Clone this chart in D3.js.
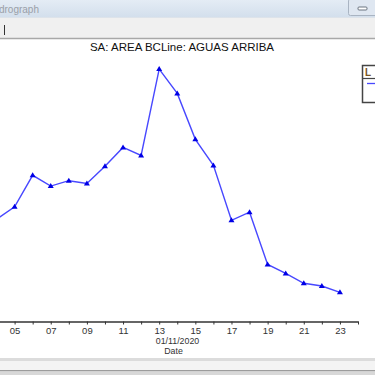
<!DOCTYPE html>
<html>
<head>
<meta charset="utf-8">
<script src="https://cdn.jsdelivr.net/npm/d3@7"></script>
<style>
  html, body { margin: 0; padding: 0; background: #fff; }
  svg { display: block; font-family: "Liberation Sans", Arial, sans-serif; }
</style>
</head>
<body>
<svg id="chart" width="375" height="375"></svg>
<script>
// Data: daily values, November 2020
const days = [4, 5, 6, 7, 8, 9, 10, 11, 12, 13, 14, 15, 16, 17, 18, 19, 20, 21, 22, 23];
const values = [114, 128, 163, 151, 157, 154, 173, 194, 185, 281, 254, 203, 174, 113, 122, 64, 54, 43, 40, 33];
const chartTitle = "SA: AREA BCLine: AGUAS ARRIBA";
const windowTitle = "Hydrograph";
const monthLabel = "01/11/2020";
const axisLabel = "Date";

const W = 375, H = 375;
const svg = d3.select("#chart");

// Window chrome
const grad = svg.append("defs").append("linearGradient")
    .attr("id", "tb").attr("x1", 0).attr("y1", 0).attr("x2", 0).attr("y2", 1);
grad.append("stop").attr("offset", "0%").attr("stop-color", "#e4ecf5");
grad.append("stop").attr("offset", "100%").attr("stop-color", "#d3dfec");

svg.append("rect").attr("x", 0).attr("y", 0).attr("width", W).attr("height", 17).attr("fill", "url(#tb)");
svg.append("text")
    .attr("x", 39).attr("y", 12.5)
    .attr("text-anchor", "end")
    .attr("font-family", "'Liberation Sans', Arial, sans-serif")
    .attr("font-size", 10).attr("fill", "#9aa0a8")
    .text(windowTitle);

// minimize button
svg.append("rect").attr("x", 348.5).attr("y", -1).attr("width", 30).attr("height", 16.5)
    .attr("rx", 2).attr("fill", "#dfe7f1").attr("stroke", "#a9b4c2");
svg.append("rect").attr("x", 358).attr("y", 7).attr("width", 9).attr("height", 3)
    .attr("rx", 1).attr("fill", "#fff").attr("stroke", "#6b7480");

// toolbar strip
svg.append("rect").attr("x", 0).attr("y", 17).attr("width", W).attr("height", 21).attr("fill", "#f0f0f0");
svg.append("line").attr("x1", 0).attr("x2", W).attr("y1", 17.5).attr("y2", 17.5).attr("stroke", "#dde3ea");
svg.append("line").attr("x1", 4.5).attr("x2", 4.5).attr("y1", 25).attr("y2", 35).attr("stroke", "#333");
svg.append("line").attr("x1", 0).attr("x2", W).attr("y1", 38.5).attr("y2", 38.5).attr("stroke", "#a8a8a8").attr("stroke-width", 1.5);

// Title
svg.append("text")
    .attr("x", 182).attr("y", 50.5)
    .attr("text-anchor", "middle")
    .attr("font-size", 11.5).attr("fill", "#111")
    .text(chartTitle);

// Scales
const x = d3.scaleTime()
    .domain([new Date(2020, 10, 1), new Date(2020, 10, 24)])
    .range([-57.7, 358]);
const y = d3.scaleLinear()
    .domain([0, 300])
    .range([322, 52]);

const axisY = 321.5;
const xAxis = d3.axisBottom(x)
    .ticks(d3.timeDay.every(1))
    .tickSize(3)
    .tickSizeOuter(0)
    .tickFormat(d => d.getDate() % 2 === 1 && d.getDate() > 3 ? d3.timeFormat("%d")(d) : "");

const gx = svg.append("g")
    .attr("transform", `translate(0,${axisY})`)
    .call(xAxis);
gx.select(".domain").attr("stroke", "#333").attr("stroke-width", 1.3);
gx.selectAll(".tick line").attr("stroke", "#333");
gx.selectAll(".tick text")
    .attr("font-family", "'Liberation Sans', Arial, sans-serif")
    .attr("font-size", 9.5).attr("fill", "#333").attr("dy", "0.9em").attr("y", 4);

svg.append("text").attr("x", 177.5).attr("y", 344).attr("text-anchor", "middle")
    .attr("font-size", 8.8).attr("fill", "#333").text(monthLabel);
svg.append("text").attr("x", 173.5).attr("y", 354).attr("text-anchor", "middle")
    .attr("font-size", 8.8).attr("fill", "#333").text(axisLabel);

// Series
const data = days.map((d, i) => ({ date: new Date(2020, 10, d), value: values[i] }));
const line = d3.line()
    .x(d => x(d.date))
    .y(d => y(d.value));

svg.append("path")
    .datum(data)
    .attr("fill", "none")
    .attr("stroke", "#4848ff")
    .attr("stroke-width", 1.4)
    .attr("d", line);

svg.append("g")
    .selectAll("path")
    .data(data)
    .join("path")
    .attr("transform", d => `translate(${x(d.date)},${y(d.value)})`)
    .attr("d", "M0,-3L3,2L-3,2Z")
    .attr("fill", "#0000e6");

// Legend box (clipped at right edge)
svg.append("rect").attr("x", 362.5).attr("y", 65.5).attr("width", 20).attr("height", 37)
    .attr("fill", "#fff").attr("stroke", "#444").attr("stroke-width", 1.5);
svg.append("line").attr("x1", 362.5).attr("x2", W).attr("y1", 78.5).attr("y2", 78.5)
    .attr("stroke", "#444").attr("stroke-width", 1.2);
svg.append("text").attr("x", 365).attr("y", 76).attr("font-size", 10).attr("font-weight", "bold")
    .attr("fill", "#7a5520").text("L");
svg.append("line").attr("x1", 367).attr("x2", W).attr("y1", 83.5).attr("y2", 83.5)
    .attr("stroke", "#4848ff").attr("stroke-width", 1.3);

// Bottom frame
svg.append("rect").attr("x", 0).attr("y", 358).attr("width", W).attr("height", 3).attr("fill", "#dcdcdc");
svg.append("rect").attr("x", 0).attr("y", 361).attr("width", W).attr("height", 9).attr("fill", "#f4f4f4");
svg.append("rect").attr("x", 0).attr("y", 370).attr("width", W).attr("height", 1.5).attr("fill", "#9c9c9c");
svg.append("rect").attr("x", 0).attr("y", 371.5).attr("width", W).attr("height", 4).attr("fill", "#d8d8d8");
</script>
</body>
</html>
